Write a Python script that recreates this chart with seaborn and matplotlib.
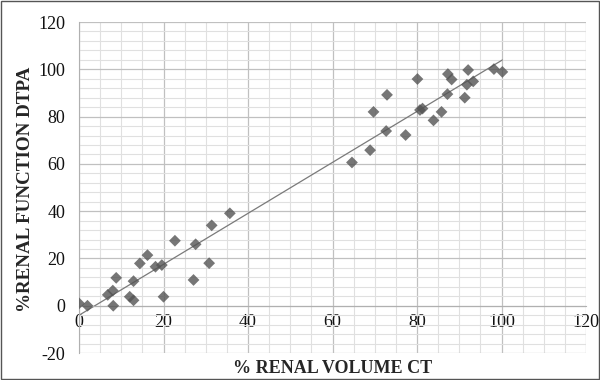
import numpy as np
import pandas as pd
import matplotlib
matplotlib.use("Agg")
import matplotlib.pyplot as plt
from matplotlib.ticker import MultipleLocator
import seaborn as sns

volume_ct = [0, 2, 6.8, 8, 8.1, 8.8, 12, 12.9, 12.9, 14.4, 16.2, 18.1, 19.6, 20,
             22.7, 27.6, 27.1, 30.8, 31.4, 35.7,
             64.6, 68.9, 69.7, 72.9, 72.7, 77.3, 80.1, 80.7, 81.3, 83.9, 85.8,
             87.2, 87.3, 88.2, 91.3, 91.8, 93.3, 92.1, 98.2, 100.2]
function_dtpa = [1, 0, 4.6, 6.4, 0, 11.8, 3.8, 2.3, 10.4, 17.9, 21.4, 16.5, 17.2, 3.8,
                 27.5, 26, 10.9, 18, 34, 39.1,
                 60.6, 65.8, 82, 89.2, 73.9, 72.2, 95.9, 82.8, 83.4, 78.4, 82,
                 89.5, 98, 95.7, 88, 93.5, 94.9, 99.7, 100.1, 98.9]
x_ticks = [0, 20, 40, 60, 80, 100, 120]
y_ticks = [-20, 0, 20, 40, 60, 80, 100, 120]
x_label = "% RENAL VOLUME CT"
y_label = "%RENAL FUNCTION DTPA"

df = pd.DataFrame({"ct": volume_ct, "dtpa": function_dtpa})

sns.set_style("white")
plt.rcParams["font.family"] = ["Liberation Serif", "DejaVu Serif"]
plt.rcParams["axes.unicode_minus"] = False

fig = plt.figure(figsize=(6, 3.8), dpi=100)
ax = fig.add_axes([0.1317, 0.071, 0.845, 0.871])

sns.regplot(data=df, x="ct", y="dtpa", ax=ax, ci=None, marker="D",
            scatter_kws=dict(s=36, color="#545454", edgecolor="none", zorder=3),
            line_kws=dict(color="#7a7a7a", lw=0.9, zorder=2))

ax.set_xlim(0, 120)
ax.set_ylim(-20, 120)
ax.set_xticks(x_ticks)
ax.set_yticks(y_ticks)
ax.xaxis.set_minor_locator(MultipleLocator(5))
ax.yaxis.set_minor_locator(MultipleLocator(4))
ax.grid(which="major", color="#c0c0c0", lw=0.9)
ax.grid(which="minor", color="#e0e0e0", lw=0.8)
ax.set_axisbelow(True)

for s in ["top", "right"]:
    ax.spines[s].set_visible(False)
ax.spines["left"].set_color("#b0b0b0")
ax.spines["bottom"].set_color("#b0b0b0")
ax.spines["bottom"].set_position(("data", 0))
ax.tick_params(axis="both", which="major", length=5, color="#b0b0b0",
               labelsize=13, labelcolor="#111111", pad=5)
ax.tick_params(axis="both", which="minor", length=0)
ax.tick_params(axis="x", which="major", direction="in", length=0, pad=6)
ax.tick_params(axis="y", direction="out")

ax.set_xlabel("")
ax.set_ylabel("")
fig.text(0.555, 0.029, x_label, ha="center", va="center",
         fontsize=13, fontweight="bold")
fig.text(0.043, 0.503, y_label, ha="center", va="center", rotation=90,
         fontsize=13.7, fontweight="bold")

fig.patches.append(plt.Rectangle((0.002, 0.003), 0.996, 0.994, transform=fig.transFigure,
                                 fill=False, edgecolor="#555555", lw=1.0))

fig.savefig("out.png", dpi=100)
